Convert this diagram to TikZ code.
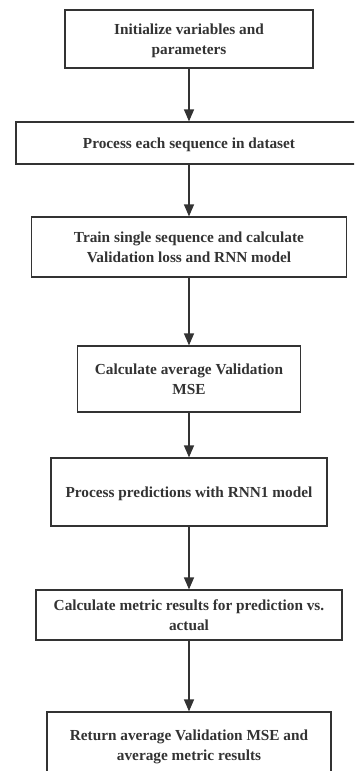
\documentclass[tikz,border=0pt]{standalone}
\usepackage{fontspec}
\setmainfont{Liberation Serif}
\usetikzlibrary{arrows.meta}
\definecolor{ink}{HTML}{333333}
\tikzset{
  box/.style={draw=ink, line width=1.2pt, rectangle, align=center, text=ink,
    font=\fontsize{15.3}{19.5}\selectfont\bfseries, inner sep=0pt, anchor=center, text depth=0pt},
  flow/.style={draw=ink, line width=1.2pt, -{Triangle[length=12pt,width=10pt]}}
}
\begin{document}
\begin{tikzpicture}[x=1pt,y=-1pt]
\useasboundingbox (0,0) rectangle (354,771);
\clip (0,0) rectangle (354,771);
\fill[white] (0,0) rectangle (354,771);
\node[box, minimum width=248pt, minimum height=58pt] (b1) at (189,39) {Initialize variables and\\parameters};
\node[box, minimum width=346pt, minimum height=42pt] (b2) at (189,143) {Process each sequence in dataset};
\node[box, minimum width=315pt, minimum height=60pt] (b3) at (189,247) {Train single sequence and calculate\\Validation loss and RNN model};
\node[box, minimum width=223pt, minimum height=66pt] (b4) at (189,379) {Calculate average Validation\\MSE};
\node[box, minimum width=276pt, minimum height=68pt] (b5) at (189,492) {Process predictions with RNN1 model};
\node[box, minimum width=306pt, minimum height=50pt] (b6) at (189,615) {Calculate metric results for prediction vs.\\actual};
\node[box, minimum width=284pt, minimum height=66pt] (b7) at (189,745) {Return average Validation MSE and\\average metric results};
\draw[flow] (b1.south) -- (b2.north);
\draw[flow] (b2.south) -- (b3.north);
\draw[flow] (b3.south) -- (b4.north);
\draw[flow] (b4.south) -- (b5.north);
\draw[flow] (b5.south) -- (b6.north);
\draw[flow] (b6.south) -- (b7.north);
\end{tikzpicture}
\end{document}
